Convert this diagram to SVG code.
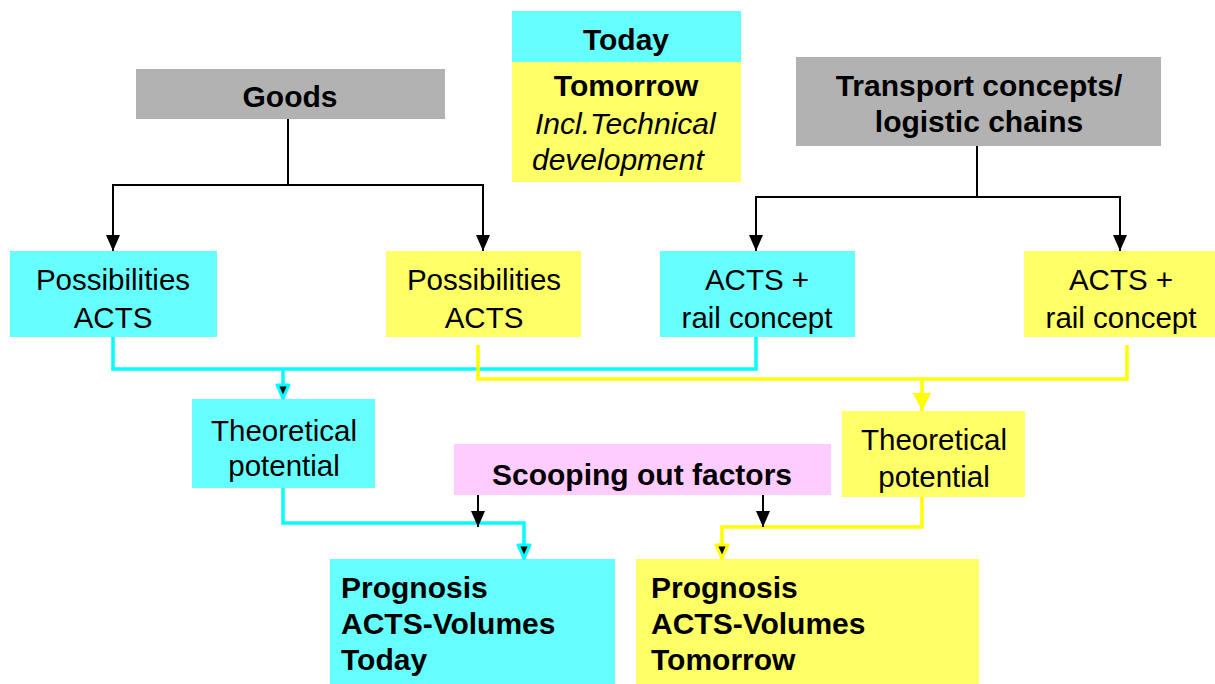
<svg xmlns="http://www.w3.org/2000/svg" width="1215" height="684" viewBox="0 0 1215 684">
<defs>
<style>
text{font-family:"Liberation Sans",Arial,sans-serif;font-size:29.5px;fill:#000}
.b{font-weight:bold;font-size:30px}
.i{font-style:italic;font-size:30px}
.c{text-anchor:middle}
.cy{fill:#66FFFF}
.ye{fill:#FFFF66}
.gr{fill:#B2B2B2}
.pk{fill:#FFCCFF}
.lk{fill:none;stroke:#000;stroke-width:2}
.lc{fill:none;stroke:#00FFFF;stroke-width:3.5}
.ly{fill:none;stroke:#FFFF00;stroke-width:3.5}
</style>
<marker id="ab" markerUnits="userSpaceOnUse" viewBox="0 0 16 14" markerWidth="16" markerHeight="14" refX="16" refY="7" orient="auto"><path d="M0,0 L16,7 L0,14 z" fill="#000"/></marker>
<marker id="ac" markerUnits="userSpaceOnUse" viewBox="0 0 18 16" markerWidth="18" markerHeight="16" refX="16" refY="8" orient="auto"><path d="M2,2 L15,8 L2,14 z" fill="#000" stroke="#00FFFF" stroke-width="3" stroke-linejoin="round"/></marker>
<marker id="ay" markerUnits="userSpaceOnUse" viewBox="0 0 18 16" markerWidth="18" markerHeight="16" refX="16" refY="8" orient="auto"><path d="M2,2 L15,8 L2,14 z" fill="#000" stroke="#FFFF00" stroke-width="3" stroke-linejoin="round"/></marker>
<marker id="ayb" markerUnits="userSpaceOnUse" viewBox="0 0 18 20" markerWidth="18" markerHeight="20" refX="18" refY="10" orient="auto"><path d="M0,1 L18,10 L0,19 z" fill="#FFFF00"/></marker>
</defs>

<g id="legend-today"><rect class="cy" x="512" y="11" width="229" height="51"/><text class="b c" x="626" y="50">Today</text></g>
<g id="legend-tomorrow"><rect class="ye" x="512" y="62" width="229" height="120"/><text class="b c" x="626" y="96">Tomorrow</text><text class="i" x="535" y="134">Incl.Technical</text><text class="i" x="532" y="170">development</text></g>

<g id="goods"><rect class="gr" x="136" y="69" width="309" height="50"/><text class="b c" x="290" y="107">Goods</text></g>
<g id="transport"><rect class="gr" x="796" y="57" width="365" height="89"/><text class="b c" x="979" y="96">Transport concepts/</text><text class="b c" x="979" y="132">logistic chains</text></g>

<g id="poss-today"><rect class="cy" x="10" y="251" width="207" height="86"/><text class="c" x="113" y="290">Possibilities</text><text class="c" x="113" y="328">ACTS</text></g>
<g id="poss-tomorrow"><rect class="ye" x="386" y="251" width="195" height="86"/><text class="c" x="484" y="290">Possibilities</text><text class="c" x="484" y="328">ACTS</text></g>
<g id="rail-today"><rect class="cy" x="660" y="251" width="195" height="86"/><text class="c" x="757" y="290">ACTS +</text><text class="c" x="757" y="328">rail concept</text></g>
<g id="rail-tomorrow"><rect class="ye" x="1024" y="251" width="191" height="86"/><text class="c" x="1121" y="290">ACTS +</text><text class="c" x="1121" y="328">rail concept</text></g>

<g id="theo-today"><rect class="cy" x="192" y="399" width="183" height="89"/><text class="c" x="284" y="441">Theoretical</text><text class="c" x="284" y="476">potential</text></g>
<g id="theo-tomorrow"><rect class="ye" x="842" y="411" width="183" height="86"/><text class="c" x="934" y="450">Theoretical</text><text class="c" x="934" y="487">potential</text></g>

<g id="scooping"><rect class="pk" x="454" y="444" width="377" height="51"/><text class="b c" x="642" y="485">Scooping out factors</text></g>

<g id="prog-today"><rect class="cy" x="330" y="559" width="285" height="125"/><text class="b" x="341" y="598">Prognosis</text><text class="b" x="341" y="634">ACTS-Volumes</text><text class="b" x="341" y="670">Today</text></g>
<g id="prog-tomorrow"><rect class="ye" x="636" y="559" width="343" height="125"/><text class="b" x="651" y="598">Prognosis</text><text class="b" x="651" y="634">ACTS-Volumes</text><text class="b" x="651" y="670">Tomorrow</text></g>

<g id="connectors">
<polyline class="lk" points="288,119 288,185"/>
<polyline class="lk" points="288,185 113,185 113,251" marker-end="url(#ab)"/>
<polyline class="lk" points="288,185 483,185 483,251" marker-end="url(#ab)"/>
<polyline class="lk" points="977,146 977,197"/>
<polyline class="lk" points="977,197 756,197 756,251" marker-end="url(#ab)"/>
<polyline class="lk" points="977,197 1120,197 1120,251" marker-end="url(#ab)"/>

<polyline class="lc" points="113,337 113,369 756,369 756,337"/>
<polyline class="lc" points="283,369 283,399" marker-end="url(#ac)"/>
<polyline class="ly" points="478,345 478,379 1127,379 1127,345"/>
<polyline class="ly" points="922,379 922,411" marker-end="url(#ayb)"/>

<polyline class="lc" points="283,488 283,523 524,523 524,559" marker-end="url(#ac)"/>
<polyline class="ly" points="922,497 922,527 722,527 722,559" marker-end="url(#ay)"/>
<polyline class="lk" points="478,495 478,527" marker-end="url(#ab)"/>
<polyline class="lk" points="763,495 763,527" marker-end="url(#ab)"/>
</g>
</svg>
